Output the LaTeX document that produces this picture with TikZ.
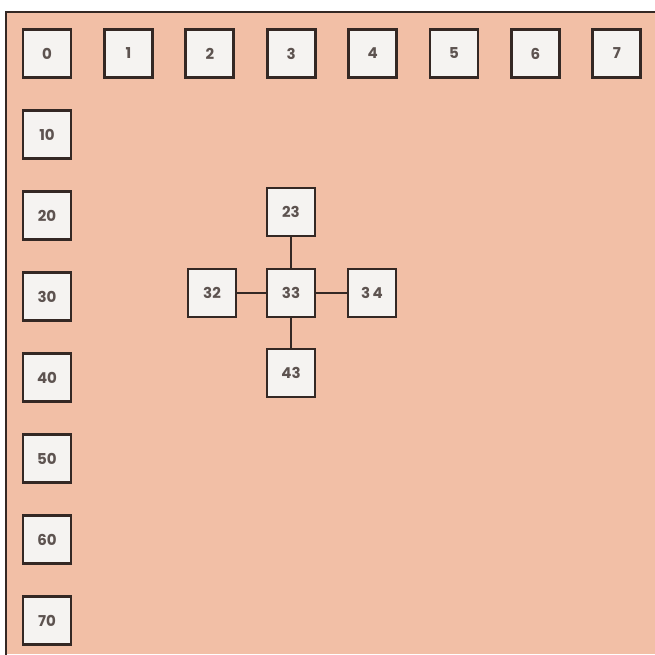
\documentclass[tikz,border=0pt]{standalone}
\usepackage{fontspec}
\setmainfont{Poppins}
\definecolor{salmon}{RGB}{242,191,166}
\definecolor{boxfill}{RGB}{245,243,241}
\definecolor{ink}{RGB}{52,40,36}
\begin{document}
\begin{tikzpicture}[x=1pt,y=-1pt,
  cell/.style={draw=ink,line width=2.8pt,fill=boxfill,minimum width=48pt,minimum height=48pt,inner sep=0pt,font=\fontsize{15}{15}\selectfont\bfseries,text=ink!80},
  link/.style={draw=ink,line width=1.8pt}]
\useasboundingbox (0,0) rectangle (655,654);
\fill[white] (0,0) rectangle (655,654);
\fill[salmon] (6,12) rectangle (655,654);
\draw[ink,line width=2.6pt] (6,656) -- (6,12) -- (657,12);
% top row
\foreach \i in {0,...,7}{
  \node[cell] (c\i) at (47+81.4*\i,53.5) {\i};
}
% left column
\foreach \j in {1,...,7}{
  \node[cell] (r\j) at (47,53.5+81*\j) {\j0};
}
% cross
\node[cell] (n23) at (291,212) {23};
\node[cell] (n32) at (212,293) {32};
\node[cell] (n33) at (291,293) {33};
\node[cell] (n34) at (372,293) {3\,4};
\node[cell] (n43) at (291,373) {43};
\draw[link] (n23) -- (n33);
\draw[link] (n32) -- (n33);
\draw[link] (n33) -- (n34);
\draw[link] (n33) -- (n43);
\end{tikzpicture}
\end{document}
